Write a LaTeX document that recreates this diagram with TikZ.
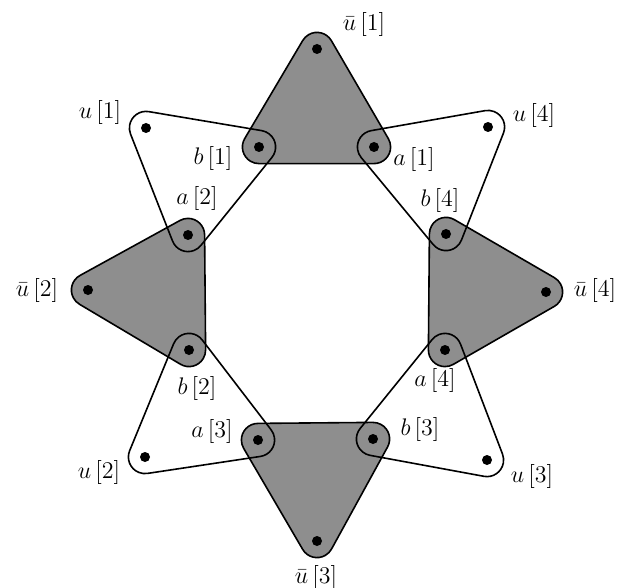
\documentclass[tikz,border=0pt]{standalone}
\usetikzlibrary{calc}

\definecolor{seda}{RGB}{142,142,142}
\newcommand{\polomer}{8.3pt}
% hyperhrana = zaoblený trojúhelník kolem tří vrcholů (pořadí proti směru hodin)
\newcommand{\hedge}[4][]{%
  \draw[#1] let \p1=(#2), \p2=(#3), \p3=(#4),
    \n1={atan2((\y2)-(\y1),(\x2)-(\x1))-90},
    \n2={atan2((\y3)-(\y2),(\x3)-(\x2))-90},
    \n3={atan2((\y1)-(\y3),(\x1)-(\x3))-90},
    \n4={mod((\n2)-(\n1)+720,360)},
    \n5={mod((\n3)-(\n2)+720,360)},
    \n6={mod((\n1)-(\n3)+720,360)}
  in ($(\p1)+(\n1:\polomer)$) -- ($(\p2)+(\n1:\polomer)$)
    arc[start angle=\n1, delta angle=\n4, radius=\polomer]
    -- ($(\p3)+(\n2:\polomer)$)
    arc[start angle=\n2, delta angle=\n5, radius=\polomer]
    -- ($(\p1)+(\n3:\polomer)$)
    arc[start angle=\n3, delta angle=\n6, radius=\polomer] -- cycle;
}

\begin{document}
\begin{tikzpicture}[x=0.5pt, y=-0.5pt, line width=0.8pt,
    popis/.style={font=\fontsize{12}{14}\selectfont, inner sep=0pt}]
        \useasboundingbox (0,0) rectangle (619,587);

        % vrcholy
        \coordinate (ub1) at (317,49);
        \coordinate (b1) at (259,147);
        \coordinate (a1) at (374,147);
        \coordinate (ub2) at (88,290);
        \coordinate (a2) at (188,235);
        \coordinate (b2) at (189,350);
        \coordinate (ub3) at (317,541);
        \coordinate (a3) at (258,440);
        \coordinate (b3) at (373,439);
        \coordinate (ub4) at (546,292);
        \coordinate (b4) at (446,234);
        \coordinate (a4) at (445,350);
        \coordinate (u1) at (146,128);
        \coordinate (u2) at (145,457);
        \coordinate (u3) at (487,460);
        \coordinate (u4) at (488,127);

        % šedé hrany
        \hedge[fill=seda]{ub1}{b1}{a1}
        \hedge[fill=seda]{ub2}{b2}{a2}
        \hedge[fill=seda]{ub3}{b3}{a3}
        \hedge[fill=seda]{ub4}{b4}{a4}

        % bílé hrany
        \hedge{u1}{a2}{b1}
        \hedge{u2}{a3}{b2}
        \hedge{u3}{a4}{b3}
        \hedge{u4}{a1}{b4}

        % body
        \foreach \v in {ub1,b1,a1,ub2,a2,b2,ub3,a3,b3,ub4,b4,a4,u1,u2,u3,u4}
            \fill (\v) circle (2.5pt);

        % popisky
        \node[popis] (lub1) at (364,25) {$\bar{u}\,[1]$};
        \node[popis] (lub2) at (37,290) {$\bar{u}\,[2]$};
        \node[popis] (lub3) at (316,577) {$\bar{u}\,[3]$};
        \node[popis] (lub4) at (595,290) {$\bar{u}\,[4]$};
        \node[popis] (lu1) at (100,113) {$u\,[1]$};
        \node[popis] (lu2) at (99,472) {$u\,[2]$};
        \node[popis] (lu3) at (532,476) {$u\,[3]$};
        \node[popis] (lu4) at (534,116) {$u\,[4]$};
        \node[popis] (la1) at (414,160) {$a\,[1]$};
        \node[popis] (la2) at (197,199) {$a\,[2]$};
        \node[popis] (la3) at (212,431) {$a\,[3]$};
        \node[popis] (la4) at (435,380) {$a\,[4]$};
        \node[popis] (lb1) at (213,159) {$b\,[1]$};
        \node[popis] (lb2) at (197,388) {$b\,[2]$};
        \node[popis] (lb3) at (420,429) {$b\,[3]$};
        \node[popis] (lb4) at (440,200) {$b\,[4]$};
    \end{tikzpicture}
\end{document}
